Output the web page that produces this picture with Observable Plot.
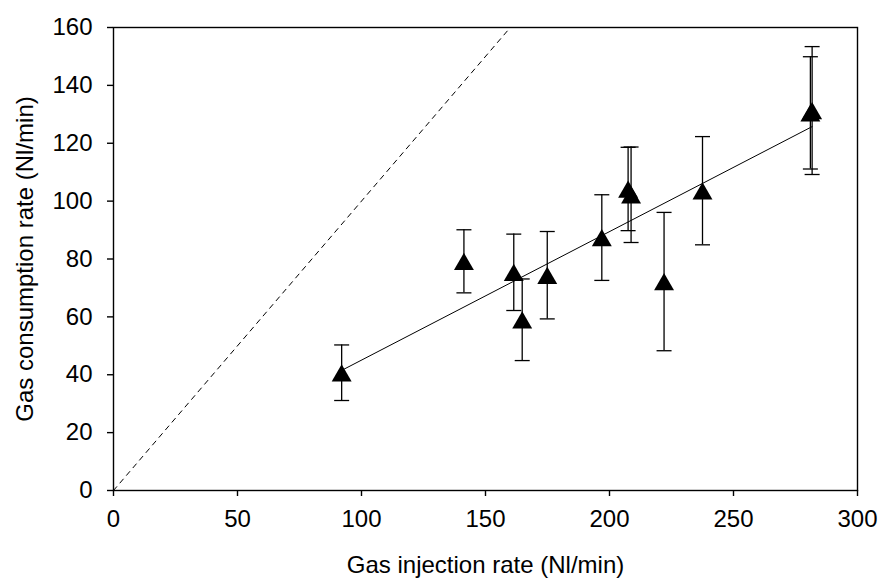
<!DOCTYPE html>
<html>
<head>
<meta charset="utf-8">
<script src="https://cdn.jsdelivr.net/npm/d3@7"></script>
<script src="https://cdn.jsdelivr.net/npm/@observablehq/plot@0.6"></script>
<style>
  html, body { margin: 0; padding: 0; background: #fff; }
  svg { display: block; }
</style>
</head>
<body>
<div id="chart"></div>
<script>
// Data
const injection   = [92, 141.3, 161.4, 164.8, 174.9, 196.9, 207.5, 208.7, 222, 237.5, 281, 281.7];
const consumption = [40.7, 79.2, 75.4, 59.0, 74.4, 87.4, 104.2, 102.2, 72.2, 103.6, 130.5, 131.3];
const errorBar    = [9.6, 10.9, 13.2, 14.1, 15.1, 14.8, 14.4, 16.5, 23.9, 18.7, 19.4, 22.1];
const identityLine = [0, 160];
const xTicks = [0, 50, 100, 150, 200, 250, 300];
const yTicks = [0, 20, 40, 60, 80, 100, 120, 140, 160];

const data = injection.map((x, i) => ({
  x, y: consumption[i], lo: consumption[i] - errorBar[i], hi: consumption[i] + errorBar[i]
}));

const capSymbol = {
  draw(context) { context.moveTo(-7.5, 0); context.lineTo(7.5, 0); }
};

const chart = Plot.plot({
  width: 882,
  height: 584,
  marginLeft: 113,
  marginRight: 25,
  marginTop: 27,
  marginBottom: 94,
  style: { fontFamily: "'Liberation Sans', Arial, sans-serif", fontSize: "24px", color: "#000", background: "#fff" },
  x: { domain: [0, 300] },
  y: { domain: [0, 160] },
  marks: [
    Plot.frame({ stroke: "#000", strokeWidth: 1.4 }),
    Plot.axisX({ ticks: xTicks, tickSize: 6, tickPadding: 13, label: "Gas injection rate (Nl/min)", labelAnchor: "center", labelArrow: "none", labelOffset: 82, strokeWidth: 1.4 }),
    Plot.axisY({ ticks: yTicks, tickSize: 6, tickPadding: 15, label: "Gas consumption rate (Nl/min)", labelAnchor: "center", labelArrow: "none", labelOffset: 98, strokeWidth: 1.4 }),
    Plot.line(identityLine, { x: d => d, y: d => d, stroke: "#000", strokeWidth: 1, strokeDasharray: "5,5" }),
    Plot.linearRegressionY(data, { x: "x", y: "y", ci: 0, stroke: "#000", strokeWidth: 1 }),
    Plot.ruleX(data, { x: "x", y1: "lo", y2: "hi", stroke: "#000", strokeWidth: 1.3 }),
    Plot.dot(data, { x: "x", y: "lo", symbol: capSymbol, r: 5, stroke: "#000", strokeWidth: 1.3, fill: "none" }),
    Plot.dot(data, { x: "x", y: "hi", symbol: capSymbol, r: 5, stroke: "#000", strokeWidth: 1.3, fill: "none" }),
    Plot.dot(data, { x: "x", y: "y", symbol: "triangle", r: 7.4, fill: "#000", stroke: "none", dy: 3 })
  ]
});
document.getElementById("chart").appendChild(chart);
</script>
</body>
</html>
